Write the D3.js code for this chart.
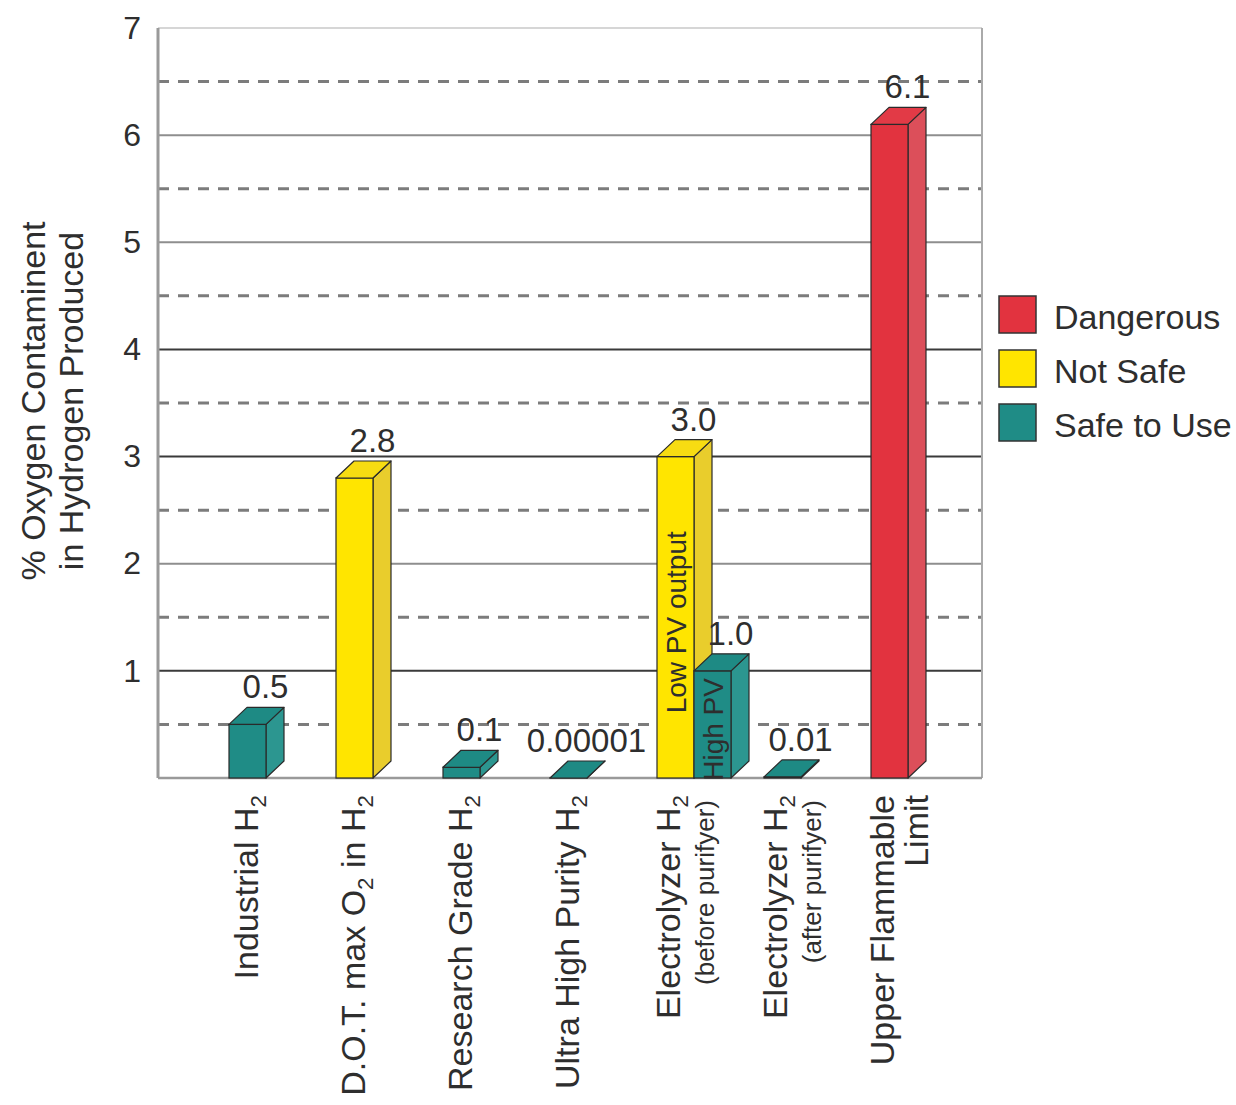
<!DOCTYPE html>
<html>
<head>
<meta charset="utf-8">
<script src="https://cdn.jsdelivr.net/npm/d3@7"></script>
<style>
  html, body { margin: 0; padding: 0; background: #fff; }
  svg { display: block; }
  text { font-family: "Liberation Sans", Arial, sans-serif; fill: #2e2e2e; }
</style>
</head>
<body>
<svg id="chart" width="1236" height="1105"></svg>
<script>
// ---------------- DATA ----------------
const categoriesLine1 = ["Industrial H_2", "D.O.T. max O_2 in H_2", "Research Grade H_2", "Ultra High Purity H_2", "Electrolyzer H_2", "Electrolyzer H_2", "Upper Flammable"];
const categoriesLine2 = ["", "", "", "", "(before purifyer)", "(after purifyer)", "Limit"];

const barCategory  = [0, 1, 2, 3, 4, 4, 5, 6];
const barValues    = [0.5, 2.8, 0.1, 0.00001, 3.0, 1.0, 0.01, 6.1];
const barLabels    = ["0.5", "2.8", "0.1", "0.00001", "3.0", "1.0", "0.01", "6.1"];
const barStatus    = ["Safe to Use", "Not Safe", "Safe to Use", "Safe to Use", "Not Safe", "Safe to Use", "Safe to Use", "Dangerous"];
const barInnerText = ["", "", "", "", "Low PV output", "High PV", "", ""];

const yTicks      = [1, 2, 3, 4, 5, 6, 7];
const yHalfTicks  = [0.5, 1.5, 2.5, 3.5, 4.5, 5.5, 6.5];
const yTitleLines = ["% Oxygen Contaminent", "in Hydrogen Produced"];
const legendItems = ["Dangerous", "Not Safe", "Safe to Use"];

// ---------------- STYLE ----------------
const palette = {
  "Dangerous":   { front: "#e2333f", top: "#e23a46", side: "#dc4f5a" },
  "Not Safe":    { front: "#ffe500", top: "#f7dc12", side: "#e9cd2c" },
  "Safe to Use": { front: "#1f8c86", top: "#1e8a84", side: "#2c9690" }
};
const darkLines = new Set([1, 3, 4]);

const svg = d3.select("#chart");
const M = { left: 158, right: 982, top: 28, bottom: 778 };
const barW = 37, dx = 18, dy = 17;

const y = d3.scaleLinear().domain([0, 7]).range([M.bottom, M.top]);
const x = d3.scaleBand().domain(d3.range(categoriesLine1.length)).range([194, 194 + 107 * 7]).paddingInner(0);
const center = i => x(i) + x.bandwidth() / 2;

// ---------------- GRID ----------------
const g = svg.append("g");
g.selectAll("line.half").data(yHalfTicks).join("line")
  .attr("x1", M.left).attr("x2", M.right)
  .attr("y1", d => y(d)).attr("y2", d => y(d))
  .attr("stroke", "#7c7c7c").attr("stroke-width", 3)
  .attr("stroke-dasharray", "11,9");
g.selectAll("line.full").data(yTicks.filter(d => d < 7)).join("line")
  .attr("x1", M.left).attr("x2", M.right)
  .attr("y1", d => y(d)).attr("y2", d => y(d))
  .attr("stroke", d => darkLines.has(d) ? "#3a3a3a" : "#8e8e8e")
  .attr("stroke-width", 2);
// frame
g.append("line").attr("x1", M.left).attr("x2", M.right).attr("y1", y(7)).attr("y2", y(7))
  .attr("stroke", "#c8c8c8").attr("stroke-width", 1.5);
g.append("line").attr("x1", M.right).attr("x2", M.right).attr("y1", y(7)).attr("y2", y(0))
  .attr("stroke", "#aaaaaa").attr("stroke-width", 2);
g.append("line").attr("x1", M.left).attr("x2", M.right).attr("y1", y(0)).attr("y2", y(0))
  .attr("stroke", "#9a9a9a").attr("stroke-width", 2.5);
g.append("line").attr("x1", M.left).attr("x2", M.left).attr("y1", y(7)).attr("y2", y(0))
  .attr("stroke", "#9a9a9a").attr("stroke-width", 3);

// ---------------- Y AXIS ----------------
const yAxis = d3.axisLeft(y).tickValues(yTicks).tickSize(0).tickPadding(17).tickFormat(d3.format("d"));
const ya = svg.append("g").attr("transform", `translate(${M.left},0)`).call(yAxis);
ya.select(".domain").remove();
ya.selectAll("text").attr("font-size", 32).attr("fill", "#2e2e2e")
  .style("font-family", "'Liberation Sans', Arial, sans-serif");

svg.selectAll("text.ytitle").data(yTitleLines).join("text")
  .attr("class", "ytitle")
  .attr("transform", (d, i) => `translate(${45 + i * 38},401) rotate(-90)`)
  .attr("text-anchor", "middle")
  .attr("font-size", 34)
  .text(d => d);

// ---------------- BARS ----------------
const bars = barValues.map((v, k) => {
  const c = barCategory[k];
  const members = barCategory.map((cc, idx) => cc === c ? idx : -1).filter(idx => idx >= 0);
  const j = members.indexOf(k);
  const left = center(c) - barW / 2 + j * barW;
  return { v, k, left, status: barStatus[k], label: barLabels[k], inner: barInnerText[k] };
});

const bg = svg.append("g");
bars.forEach(b => {
  const col = palette[b.status];
  const yT = y(b.v), y0 = y(0);
  const L = b.left, R = b.left + barW;
  const gb = bg.append("g");
  gb.append("polygon")
    .attr("points", [[R, yT], [R + dx, yT - dy], [R + dx, y0 - dy], [R, y0]].join(" "))
    .attr("fill", col.side).attr("stroke", "#2a2a2a").attr("stroke-width", 1.2).attr("stroke-linejoin", "round");
  gb.append("rect")
    .attr("x", L).attr("y", yT).attr("width", barW).attr("height", y0 - yT)
    .attr("fill", col.front).attr("stroke", "#2a2a2a").attr("stroke-width", 1.2);
  gb.append("polygon")
    .attr("points", [[L, yT], [L + dx, yT - dy], [R + dx, yT - dy], [R, yT]].join(" "))
    .attr("fill", col.top).attr("stroke", "#2a2a2a").attr("stroke-width", 1.2).attr("stroke-linejoin", "round");
  if (b.inner) {
    gb.append("text")
      .attr("transform", `translate(${L + barW / 2 + 10},${(yT + y0) / 2 + 5}) rotate(-90)`)
      .attr("text-anchor", "middle")
      .attr("font-size", 28)
      .attr("fill", "#222")
      .text(b.inner);
  }
});

// value labels
svg.selectAll("text.val").data(bars).join("text")
  .attr("class", "val")
  .attr("x", b => b.left + barW / 2 + dx)
  .attr("y", b => y(b.v) - dy - 9)
  .attr("text-anchor", "middle")
  .attr("font-size", 33)
  .attr("fill", "#3a3a3a")
  .text(b => b.label);

// ---------------- X LABELS ----------------
function addRich(textSel, str, size) {
  const parts = str.split(/(_\d)/).filter(p => p);
  let shifted = false;
  parts.forEach(p => {
    if (p.startsWith("_")) {
      textSel.append("tspan").attr("font-size", size * 0.66).attr("dy", size * 0.25).text(p.slice(1));
      shifted = true;
    } else {
      const ts = textSel.append("tspan").attr("font-size", size).text(p);
      if (shifted) { ts.attr("dy", -size * 0.25); shifted = false; }
    }
  });
}
categoriesLine1.forEach((s, i) => {
  const two = categoriesLine2[i] !== "";
  const cx = center(i);
  const t1 = svg.append("text")
    .attr("transform", `translate(${cx + (two ? 4 : 10)},795) rotate(-90)`)
    .attr("text-anchor", "end")
    .attr("font-size", 34);
  addRich(t1, s, 34);
  if (two) {
    const small = categoriesLine2[i].startsWith("(");
    svg.append("text")
      .attr("transform", `translate(${cx + 38},${small ? 800 : 795}) rotate(-90)`)
      .attr("text-anchor", "end")
      .attr("font-size", small ? 26 : 34)
      .text(categoriesLine2[i]);
  }
});

// ---------------- LEGEND ----------------
const lg = svg.append("g").attr("transform", "translate(999,296)");
const li = lg.selectAll("g").data(legendItems).join("g")
  .attr("transform", (d, i) => `translate(0,${i * 54})`);
li.append("rect").attr("width", 37).attr("height", 37)
  .attr("fill", d => palette[d].front).attr("stroke", "#333").attr("stroke-width", 1.5);
li.append("text").attr("x", 55).attr("y", 33).attr("font-size", 34).text(d => d);
</script>
</body>
</html>
